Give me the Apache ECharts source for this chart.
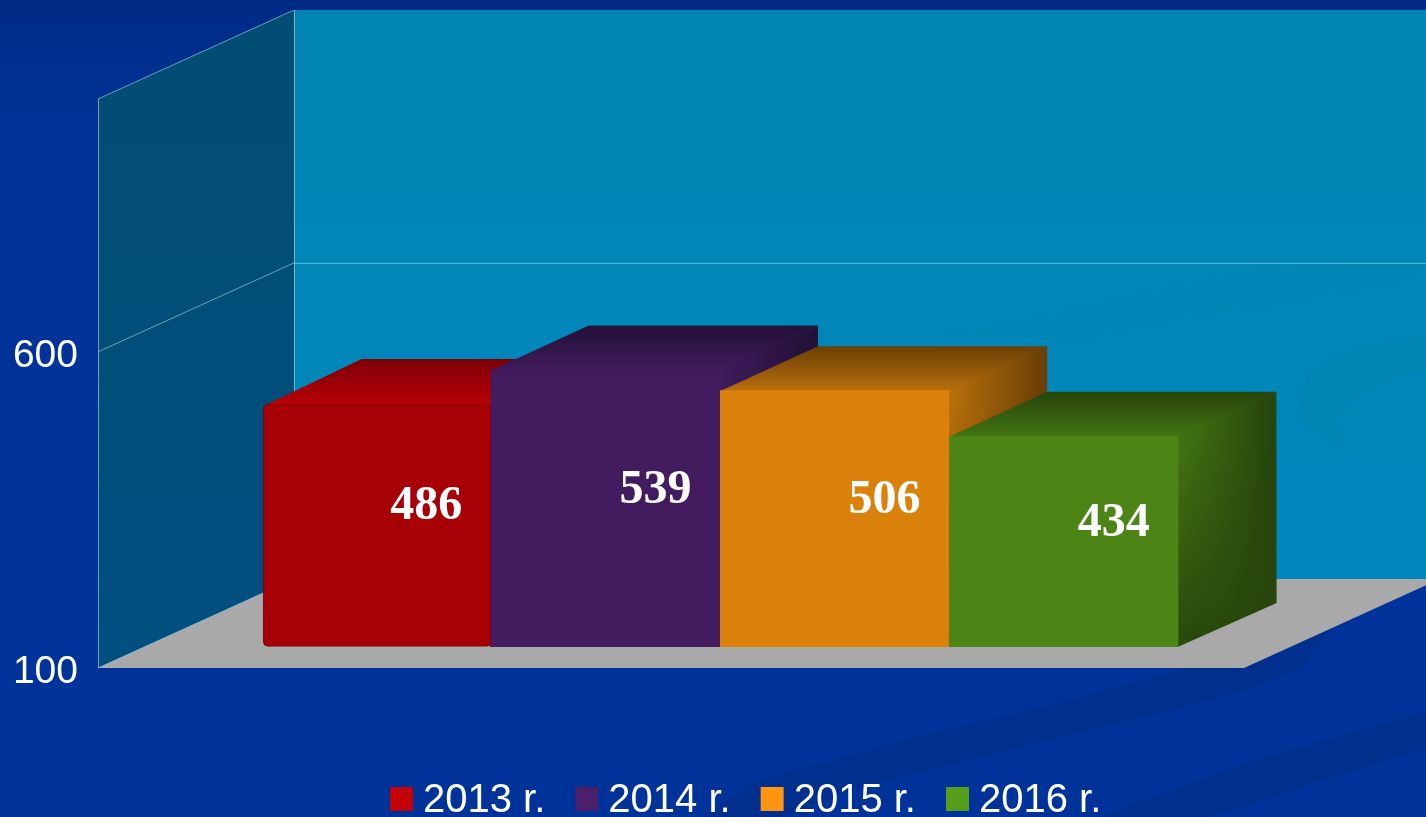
<!DOCTYPE html>
<html>
<head>
<meta charset="utf-8">
<style>html,body{margin:0;padding:0;background:#003399;overflow:hidden}#c{width:1426px;height:817px}</style>
<script src="https://cdn.jsdelivr.net/npm/echarts@6/dist/echarts.min.js"></script>
</head>
<body>
<div id="c"></div>
<script>
// ---- data ----
const categories = [''];
const yearNames = ['2013 r.', '2014 r.', '2015 r.', '2016 r.'];
const values2013 = [486];
const values2014 = [539];
const values2015 = [506];
const values2016 = [434];
const axisTickLabels = [100, 600];
const axisMin = 100;
const axisMax = 1000;

// ---- styles ----
const legendColors = ['#c40009', '#4c1f6b', '#ff9510', '#579d1c'];
const frontColors = ['#a80007', '#421c5e', '#db800a', '#4d8416'];
const topColors = [['#7d0006', '#b80008'], ['#231036', '#3f1c5c'], ['#6b3f05', '#b9700c'], ['#27450c', '#437412']];
const frontInset = [2, 0, 0, 0];
const frontRadius = [4, 0, 0, 0];
const frontStroke = ['#7a0005', null, null, null];

const WALL_DX = 196, WALL_DY = 89;      // floor depth
const BAR_OFF_X = 49, BAR_OFF_Y = 21;   // bar front plane inside the floor
const BAR_DX = 98, BAR_DY = 44;         // bar depth
const BAR_FRAC = 0.2;

const lineColor = 'rgba(170,215,215,0.62)';

function linear(x, y, x2, y2, c0, c1) {
  return { type: 'linear', x, y, x2, y2, colorStops: [{ offset: 0, color: c0 }, { offset: 1, color: c1 }] };
}

function renderBar(i) {
  return function (params, api) {
    const v = api.value(1);
    const c = api.coord([api.value(0), v]);
    const base = api.coord([api.value(0), axisMin]);
    const band = api.size([1, 0])[0];
    const w = band * BAR_FRAC;
    const x = c[0] - 2 * w + i * w + BAR_OFF_X;
    const yTop = c[1] - BAR_OFF_Y;
    const yBot = base[1] - BAR_OFF_Y;
    const ins = frontInset[i];
    const right = x + w;
    const sidePts = [[right - 1, yTop], [right + BAR_DX, yTop - BAR_DY], [right + BAR_DX, yBot - BAR_DY], [right - 1, yBot]];
    const back = topColors[i][0], front = topColors[i][1];
    const children = [
      { type: 'polygon', shape: { points: sidePts }, style: { fill: linear(0, 0, 0.95, 0, front, back) } },
      { type: 'polygon', shape: { points: sidePts }, style: { fill: linear(0, 0.2, 0, 1, back + '00', back + 'f0') } },
      { type: 'polygon', shape: { points: [[x + ins, yTop + ins + 1], [x + ins + BAR_DX, yTop - BAR_DY], [right + BAR_DX, yTop - BAR_DY], [right, yTop + ins + 1]] },
        style: { fill: linear(0, 1, 0, 0, front, back) } },
      { type: 'rect', shape: { x: x + ins, y: yTop + ins, width: w - ins, height: yBot - yTop - ins - ins / 2, r: frontRadius[i] },
        style: { fill: frontColors[i], stroke: frontStroke[i], lineWidth: frontStroke[i] ? 1 : 0 } },
      { type: 'text', x: x + w / 2 + BAR_DX / 2 + 1, y: (yTop + yBot) / 2 - BAR_DY / 2 + 4,
        style: { text: String(v), fill: '#ffffff', font: 'bold 48px "Liberation Serif", serif', align: 'center', verticalAlign: 'middle' } }
    ];
    return { type: 'group', children };
  };
}

function frame(api) {
  const lo = api.coord([0, axisMin]);
  const hi = api.coord([0, axisMax]);
  const band = api.size([1, 0])[0];
  return { x0: lo[0] - band / 2, x1: lo[0] + band / 2, yLo: lo[1], yHi: hi[1] };
}

function renderWalls(params, api) {
  const f = frame(api);
  const children = [
    { type: 'polygon', shape: { points: [[f.x0 + WALL_DX, f.yHi - WALL_DY], [f.x1 + WALL_DX, f.yHi - WALL_DY], [f.x1 + WALL_DX, f.yLo - WALL_DY], [f.x0 + WALL_DX, f.yLo - WALL_DY]] },
      style: { fill: linear(0, 0, 0, 1, '#0084b2', '#0088bd') } },
    { type: 'polygon', shape: { points: [[f.x0, f.yHi], [f.x0 + WALL_DX, f.yHi - WALL_DY], [f.x0 + WALL_DX, f.yLo - WALL_DY], [f.x0, f.yLo]] },
      style: { fill: linear(0, 0, 0, 1, '#024d74', '#004f80') } }
  ];
  return { type: 'group', children };
}

function renderFloor(params, api) {
  const f = frame(api);
  const line = (a, b, col) => ({ type: 'line', shape: { x1: a[0], y1: a[1], x2: b[0], y2: b[1] }, style: { stroke: col || lineColor, lineWidth: 1 } });
  const gridY = api.coord([0, axisTickLabels[1]])[1];
  return { type: 'group', children: [
    { type: 'polygon', shape: { points: [[f.x0, f.yLo], [f.x0 + WALL_DX, f.yLo - WALL_DY], [f.x1 + WALL_DX, f.yLo - WALL_DY], [f.x1, f.yLo]] },
      style: { fill: '#a9a9a9' } },
    line([f.x0 + 0.5, f.yHi], [f.x0 + 0.5, f.yLo]),
    line([f.x0, f.yHi], [f.x0 + WALL_DX, f.yHi - WALL_DY]),
    line([f.x0, gridY], [f.x0 + WALL_DX, gridY - WALL_DY]),
    line([f.x0, f.yLo], [f.x0 + WALL_DX, f.yLo - WALL_DY]),
    line([f.x0 + WALL_DX + 0.5, f.yHi - WALL_DY], [f.x0 + WALL_DX + 0.5, f.yLo - WALL_DY]),
    line([f.x0 + WALL_DX, gridY - WALL_DY + 0.5], [f.x1 + WALL_DX, gridY - WALL_DY + 0.5], 'rgba(120,205,215,0.8)')
  ] };
}

const barValues = [values2013, values2014, values2015, values2016];
const barSeries = yearNames.map((name, i) => ({
  type: 'custom', name, z: 5, silent: true,
  coordinateSystem: 'cartesian2d',
  itemStyle: { color: legendColors[i] },
  encode: { x: 0, y: 1 },
  data: barValues[i].map((v, k) => [k, v]),
  renderItem: renderBar(i)
}));

const chart = echarts.init(document.getElementById('c'), null, { renderer: 'canvas' });
chart.setOption({
  animation: false,
  backgroundColor: 'transparent',
  grid: { left: 98, right: 182, top: 99, bottom: 149 },
  xAxis: { type: 'category', data: categories, axisLine: { show: false }, axisTick: { show: false }, axisLabel: { show: false }, splitLine: { show: false } },
  yAxis: {
    type: 'value', min: axisMin, max: axisMax,
    axisLine: { show: false }, axisTick: { show: false }, splitLine: { show: false },
    axisLabel: {
      customValues: axisTickLabels, margin: 20,
      formatter: '{v|{value}}',
      rich: { v: { color: '#ffffff', fontSize: 39, fontFamily: '"Liberation Sans", Arial, sans-serif', padding: [9, 0, 0, 0] } }
    }
  },
  legend: {
    data: yearNames, left: 390, top: 781, padding: 0, orient: 'horizontal', icon: 'rect',
    itemWidth: 23, itemHeight: 24, itemGap: 30, selectedMode: false,
    formatter: '{t|{name}}',
    textStyle: { rich: { t: { color: '#ffffff', fontSize: 40, fontFamily: '"Liberation Sans", Arial, sans-serif', padding: [4, 0, 0, 5] } } }
  },
  graphic: [
    { type: 'rect', z: 0, silent: true, shape: { x: 0, y: 0, width: 1426, height: 817 },
      style: { fill: { type: 'linear', x: 0, y: 0, x2: 0, y2: 1, colorStops: [{ offset: 0, color: '#002a85' }, { offset: 0.16, color: '#003399' }, { offset: 1, color: '#003399' }] } } },
    { type: 'polygon', z: 0.5, silent: true, shape: { points: [[700, 817], [760, 780], [894, 743], [1070, 700], [1181, 670], [1250, 640], [1330, 630], [1316, 647], [1302, 667], [1255, 687], [1172, 710], [927, 770], [839, 795], [780, 817]] }, style: { fill: '#002f8d' } },
    { type: 'polygon', z: 0.5, silent: true, shape: { points: [[1098, 817], [1256, 760], [1426, 712], [1426, 748], [1209, 817]] }, style: { fill: '#002f8d' } },
    { type: 'polygon', z: 1.5, silent: true, shape: { points: [[1426, 335], [1385, 342], [1343, 353], [1310, 372], [1296, 397], [1303, 423], [1330, 442], [1359, 457], [1345, 440], [1338, 423], [1345, 408], [1359, 397], [1390, 378], [1426, 368]] }, style: { fill: '#0084b3' } },
    { type: 'polygon', z: 1.5, silent: true, shape: { points: [[940, 335], [1026, 320], [1126, 297], [1226, 273], [1340, 262], [1426, 250], [1426, 277], [1300, 300], [1159, 323], [1026, 353], [940, 370]] }, style: { fill: '#0085b6' } }
  ],
  series: [
    { type: 'custom', z: 1, silent: true, coordinateSystem: 'cartesian2d', encode: { x: 0, y: 1 }, data: [[0, axisMin]], renderItem: renderWalls },
    { type: 'custom', z: 2, silent: true, coordinateSystem: 'cartesian2d', encode: { x: 0, y: 1 }, data: [[0, axisMin]], renderItem: renderFloor }
  ].concat(barSeries)
});
</script>
</body>
</html>
